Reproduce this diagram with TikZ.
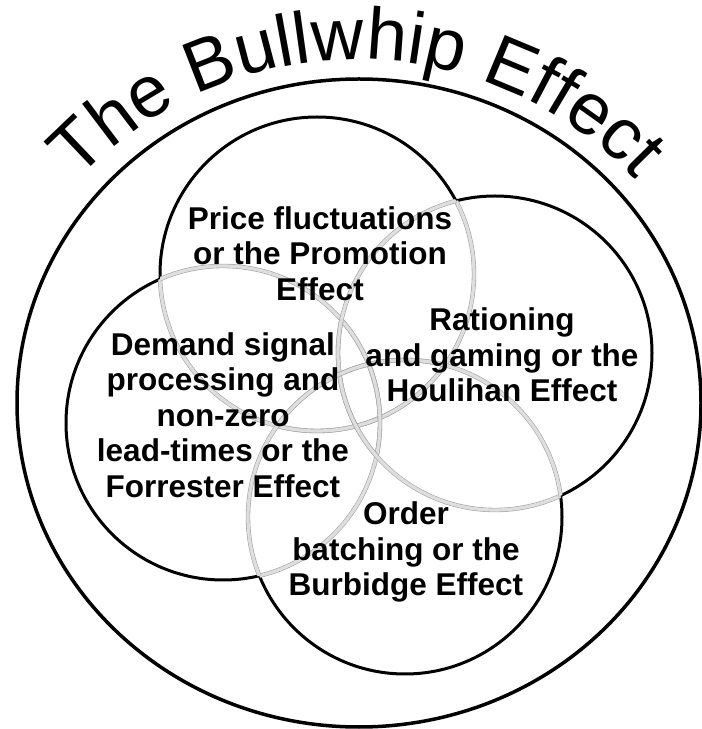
\documentclass[tikz,border=0pt]{standalone}
\usepackage{fontspec}
\setmainfont{Liberation Sans}
\usetikzlibrary{decorations.text}
\begin{document}
\begin{tikzpicture}[x=1pt,y=1pt,
  outerline/.style={line width=3.5pt},
  ring/.style={line width=3pt},
  hiddenarc/.style={draw=black!35, double=black!13, line width=0.6pt, double distance=3.2pt},
  lbl/.style={font=\bfseries\fontsize{31.5}{35.5}\selectfont, align=center, inner sep=0pt}]
\useasboundingbox (0,0) rectangle (702,729);
\coordinate (O) at (359,326);
\coordinate (C) at (357,288);
\coordinate (T) at (317,455);
\coordinate (L) at (223,306);
\coordinate (R) at (495,376);
\coordinate (B) at (405,212);
\draw[outerline] (O) ellipse[x radius=342, y radius=324];
\foreach \c in {T,L,R,B} \draw[ring] (\c) circle[radius=157];
\foreach \a/\b in {T/L,T/R,T/B,L/T,L/R,L/B,R/T,R/L,R/B,B/T,B/L,B/R}{
  \begin{scope}
    \clip (\b) circle[radius=157];
    \draw[hiddenarc] (\a) circle[radius=157];
  \end{scope}}
\path[decorate, decoration={text along path, text align=center,
  text={|\fontsize{73}{73}\selectfont|The Bullwhip Effect}}]
  (C) ++(150:381.5) arc[start angle=150, end angle=30, radius=381.5];
\node[lbl] (price) at (320,475.5) {Price fluctuations\\or the Promotion\\Effect};
\node[lbl] (demand) at (223,314) {Demand signal\\processing and\\non-zero\\lead-times or the\\Forrester Effect};
\node[lbl] (ration) at (502,374) {Rationing\\and gaming or the\\Houlihan Effect};
\node[lbl] (order) at (406,177) {Order\\batching or the\\Burbidge Effect};
\end{tikzpicture}
\end{document}
